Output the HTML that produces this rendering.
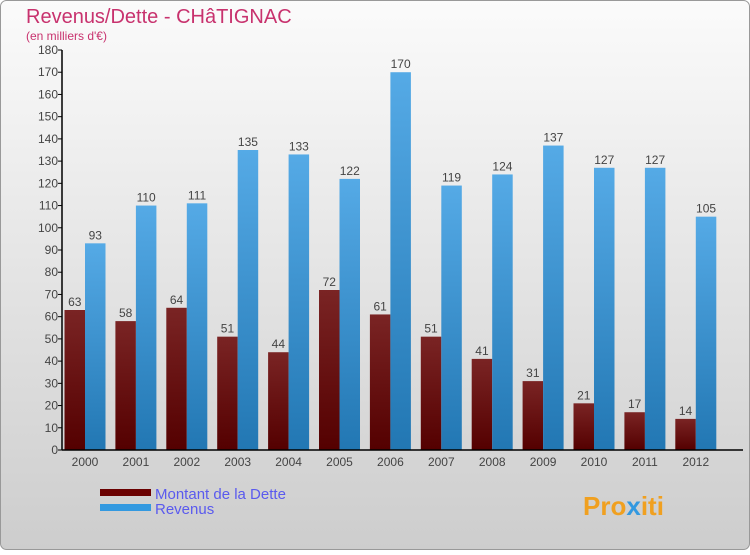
<!DOCTYPE html>
<html><head><meta charset="utf-8"><style>
body{margin:0;width:750px;height:550px;overflow:hidden;font-family:"Liberation Sans",sans-serif}
</style></head><body>
<svg id="chart" width="750" height="550" xmlns="http://www.w3.org/2000/svg">
<defs>
<linearGradient id="bg" x1="0" y1="0" x2="0" y2="1"><stop offset="0" stop-color="#fbfbfb"/><stop offset="1" stop-color="#cdcdcd"/></linearGradient>
<linearGradient id="gd" x1="0" y1="0" x2="0" y2="1"><stop offset="0" stop-color="#7a2424"/><stop offset="1" stop-color="#540000"/></linearGradient>
<linearGradient id="gr" x1="0" y1="0" x2="0" y2="1"><stop offset="0" stop-color="#55aae6"/><stop offset="1" stop-color="#2277b3"/></linearGradient>
</defs>
<rect x="0.5" y="0.5" width="749" height="549" rx="6" fill="url(#bg)" stroke="#999"/>
<text x="26" y="23" font-size="20" fill="#c8326e">Revenus/Dette - CHâTIGNAC</text>
<text x="26" y="40" font-size="12" fill="#c8326e">(en milliers d'€)</text>
<g id="grid"></g><g id="bars"></g><g id="axes"></g>
<rect x="100" y="489" width="51" height="7" fill="#6a0000"/>
<rect x="100" y="504" width="51" height="7" fill="#3399e0"/>
<text x="155" y="499" font-size="15" fill="#5a5aee">Montant de la Dette</text>
<text x="155" y="514" font-size="15" fill="#5a5aee">Revenus</text>
<text x="583" y="515" font-size="26" font-weight="bold" fill="#f0a020">Pro<tspan fill="#3399e0">x</tspan>iti</text>
</svg>
<script>
const years=["2000","2001","2002","2003","2004","2005","2006","2007","2008","2009","2010","2011","2012"];
const dette=[63,58,64,51,44,72,61,51,41,31,21,17,14];
const revenus=[93,110,111,135,133,122,170,119,124,137,127,127,105];
const yTicks=[0,10,20,30,40,50,60,70,80,90,100,110,120,130,140,150,160,170,180];
const NS="http://www.w3.org/2000/svg";
const y0=450,y1=50,x0=62,xEnd=743,groupStart=85,groupStep=50.9,bw=20.5;
const yS=v=>y0-(v/180)*(y0-y1);
const xS=i=>groupStart+i*groupStep;
function mk(t,a,p){const e=document.createElementNS(NS,t);for(const k in a)e.setAttribute(k,a[k]);document.getElementById(p).appendChild(e);return e;}
yTicks.forEach(v=>{
 const t=mk('line',{x1:x0-4,x2:x0,y1:yS(v),y2:yS(v),stroke:'#000'},'axes');
 
 
 const l=mk('text',{x:x0-4,y:yS(v)+4,'font-size':12,'text-anchor':'end',fill:'#444'},'axes');
 l.textContent=v;
 
 
});
years.forEach((yr,i)=>{
 const cx=xS(i);
 const d=mk('rect',{x:cx-bw,y:yS(dette[i]),width:bw,height:y0-yS(dette[i]),fill:'url(#gd)'},'bars');
 
 
 const r=mk('rect',{x:cx,y:yS(revenus[i]),width:bw,height:y0-yS(revenus[i]),fill:'url(#gr)'},'bars');
 
 
 const dl=mk('text',{x:cx-bw/2,y:yS(dette[i])-4,'font-size':12,'text-anchor':'middle',fill:'#444'},'bars');
 dl.textContent=dette[i];
 
 
 const rl=mk('text',{x:cx+bw/2,y:yS(revenus[i])-4,'font-size':12,'text-anchor':'middle',fill:'#444'},'bars');
 rl.textContent=revenus[i];
 
 
 const xl=mk('text',{x:cx,y:466,'font-size':12,'text-anchor':'middle',fill:'#444'},'axes');
 xl.textContent=yr;
 
 
});
const ya=mk('line',{x1:x0,x2:x0,y1:y1,y2:y0,stroke:'#000','stroke-width':1.5},'axes');


const xa=mk('line',{x1:x0,x2:xEnd,y1:y0,y2:y0,stroke:'#000','stroke-width':1.5},'axes');


</script>
</body></html>
